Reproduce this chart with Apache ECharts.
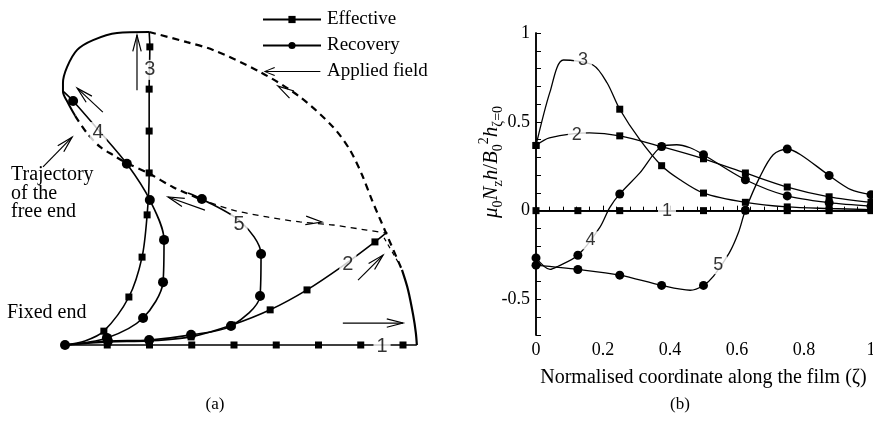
<!DOCTYPE html>
<html>
<head>
<meta charset="utf-8">
<title></title>
<script src="https://cdn.jsdelivr.net/npm/echarts@6/dist/echarts.min.js"></script>
<style>
*{ padding:0; margin:0; }
#chart{ width:873px; height:435px; background:#fff; }
</style>
</head>
<body>
<div id="chart"></div>
<script>
// ---- panel (a): film shapes, unit = film length, fixed end at (0,0) ----
// [x, y, node]  node = 1 where a marker is drawn
var film1 = [[0,0,0],[0.125,0,1],[0.25,0,1],[0.375,0,1],[0.5,0,1],[0.625,0,1],[0.75,0,1],[0.875,0,1],[1,0,1],[1.041,0,0]];
var film2 = [[0,0,0],[0.127,0.009,1],[0.249,0.012,1],[0.373,0.024,1],[0.494,0.059,1],[0.607,0.104,1],[0.716,0.163,1],[0.822,0.234,0],[0.917,0.305,1],[0.953,0.334,0]];
var film3 = [[0,0,0],[0.059,0.012,0],[0.115,0.041,1],[0.189,0.142,1],[0.228,0.260,1],[0.243,0.385,1],[0.249,0.509,1],[0.249,0.633,1],[0.249,0.757,1],[0.251,0.882,1],[0.249,0.926,0]];
var film4 = [[0,0,1],[0.124,0.021,1],[0.231,0.080,1],[0.290,0.186,1],[0.293,0.311,1],[0.251,0.429,1],[0.183,0.536,1],[0.104,0.630,0],[0.024,0.722,1],[-0.006,0.751,0]];
var film5 = [[0,0,0],[0.127,0.012,1],[0.249,0.015,1],[0.373,0.030,1],[0.491,0.056,1],[0.577,0.145,1],[0.580,0.269,1],[0.521,0.364,0],[0.405,0.432,1],[0.364,0.450,0]];

// free end trajectory
var trajSolid = [[0.249,0.926],[0.154,0.923],[0.083,0.902],[0.036,0.873],[0.006,0.822],[-0.006,0.775],[-0.006,0.749],[0.009,0.716],[0.030,0.678]];
var trajInner1 = [[0.030,0.678],[0.065,0.627],[0.104,0.586],[0.142,0.562],[0.183,0.538],[0.246,0.509],[0.320,0.467],[0.399,0.432]];
var trajInner2 = [[0.399,0.432],[0.497,0.399],[0.598,0.379],[0.695,0.364],[0.793,0.355],[0.893,0.340],[0.953,0.331]];
var trajTail = [[0.944,0.317],[0.985,0.246]];
var trajOuter = [[0.249,0.926],[0.361,0.896],[0.438,0.873],[0.577,0.808],[0.695,0.734],[0.793,0.645],[0.843,0.577],[0.879,0.503],[0.908,0.429],[0.950,0.331],[0.997,0.222]];
var trajOuterEnd = [[0.997,0.222],[1.015,0.163],[1.030,0.089],[1.038,0.036],[1.041,0]];

// applied field arrows [tailX, tailY, tipX, tipY, shaft]
var arrows = [
  [0.213,0.754, 0.213,0.917, 1],
  [0.112,0.689, 0.036,0.760, 1],
  [0.664,0.745, 0.630,0.766, 0],
  [-0.065,0.527, 0.021,0.615, 1],
  [0.414,0.399, 0.305,0.438, 1],
  [0.720,0.368, 0.760,0.364, 0],
  [0.867,0.192, 0.941,0.266, 1],
  [0.822,0.065, 1.000,0.065, 1]
];
var labelsA = [['1',0.938,-0.003],['2',0.837,0.237],['3',0.251,0.814],['4',0.098,0.630],['5',0.515,0.358]];

// ---- panel (b): normal field along the film ----
var b1 = [[0,0,1],[0.125,0,1],[0.25,0,1],[0.375,0,0],[0.5,0,1],[0.625,0,1],[0.75,0,1],[0.875,0,1],[1,0,1]];
var b2 = [[0,0.367,1],[0.04,0.41,0],[0.16,0.438,0],[0.25,0.421,1],[0.375,0.36,1],[0.5,0.292,1],[0.625,0.212,1],[0.75,0.133,1],[0.875,0.078,1],[1,0.047,1]];
var b3 = [[0,0.367,1],[0.042,0.67,0],[0.082,0.848,0],[0.17,0.82,0],[0.212,0.72,0],[0.25,0.571,1],[0.31,0.40,0],[0.375,0.253,1],[0.43,0.174,0],[0.5,0.099,1],[0.625,0.047,1],[0.75,0.021,1],[0.875,0.012,1],[1,0.006,1]];
var b4 = [[0,-0.266,1],[0.042,-0.331,0],[0.066,-0.313,0],[0.125,-0.251,1],[0.19,-0.096,0],[0.22,0.017,0],[0.25,0.094,1],[0.31,0.213,0],[0.375,0.361,1],[0.42,0.371,0],[0.46,0.354,0],[0.5,0.315,1],[0.625,0.174,1],[0.75,0.083,1],[0.875,0.045,1],[1,0.025,1]];
var b5 = [[0,-0.307,1],[0.125,-0.331,1],[0.25,-0.363,1],[0.375,-0.421,1],[0.46,-0.448,0],[0.5,-0.421,1],[0.53,-0.369,0],[0.577,-0.238,0],[0.604,-0.125,0],[0.625,0.002,1],[0.669,0.193,0],[0.708,0.315,0],[0.75,0.347,1],[0.79,0.315,0],[0.875,0.198,1],[0.94,0.118,0],[1,0.09,1]];
var labelsB = [['1',0.391,0],['2',0.122,0.427],['3',0.140,0.848],['4',0.163,-0.167],['5',0.544,-0.307]];

var serif = 'Liberation Serif';
var sans = 'Liberation Sans';

function nodes(arr, sym) {
  return arr.map(function (p) {
    return { value: [p[0], p[1]], symbol: p[2] ? sym : 'none' };
  });
}

function curve(name, arr, sym, size, ax, width) {
  return {
    name: name, type: 'line', xAxisIndex: ax, yAxisIndex: ax,
    data: nodes(arr, sym), symbol: sym, symbolSize: size,
    smooth: 0.3, clip: false, z: 3,
    lineStyle: { color: '#000', width: width },
    itemStyle: { color: '#000' },
    emphasis: { disabled: true }
  };
}

function path(arr, width, type) {
  return {
    type: 'line', xAxisIndex: 0, yAxisIndex: 0, data: arr,
    symbol: 'none', smooth: 0.3, clip: false, z: 2,
    lineStyle: { color: '#000', width: width, type: type },
    emphasis: { disabled: true }
  };
}

function arrowLines(list) {
  var out = [];
  var L = 0.048, s = 0.26;
  list.forEach(function (a) {
    var dx = a[2] - a[0], dy = a[3] - a[1];
    var len = Math.sqrt(dx * dx + dy * dy);
    var ux = dx / len, uy = dy / len;
    var bx = a[2] - ux * L, by = a[3] - uy * L;
    if (a[4]) out.push({ coords: [[a[0], a[1]], [a[2], a[3]]] });
    out.push({ coords: [[bx - uy * L * s, by + ux * L * s], [a[2], a[3]], [bx + uy * L * s, by - ux * L * s]] });
  });
  return out;
}

function labelSeries(list, ax, size, pad) {
  return {
    type: 'scatter', xAxisIndex: ax, yAxisIndex: ax, z: 10,
    symbol: 'circle', symbolSize: 1, itemStyle: { color: 'rgba(0,0,0,0)' },
    data: list.map(function (l) { return { name: l[0], value: [l[1], l[2]] }; }),
    label: {
      show: true, position: 'inside', formatter: '{b}',
      fontFamily: sans, fontSize: size, color: '#000',
      backgroundColor: '#fff', padding: pad
    },
    emphasis: { disabled: true }
  };
}

var chart = echarts.init(document.getElementById('chart'));

var option = {
  animation: false,
  backgroundColor: '#fff',
  grid: [
    { left: 31.2, top: 7, width: 405.6, height: 371.8, containLabel: false, outerBoundsMode: 'none' },
    { left: 536, top: 33, width: 335, height: 302, containLabel: false, outerBoundsMode: 'none' }
  ],
  legend: {
    orient: 'vertical', left: 257, top: 5, itemWidth: 58, itemHeight: 9, itemGap: 7,
    selectedMode: false,
    textStyle: { fontFamily: serif, fontSize: 19, color: '#000', padding: [0, 0, 0, 1] },
    data: [
      { name: 'Effective' },
      { name: 'Recovery' },
      {
        name: 'Applied field',
        icon: 'path://M0,5L11,0.4L11.6,1.4L3.4,4.4L58,4.4L58,5.6L3.4,5.6L11.6,8.6L11,9.6Z',
        itemStyle: { color: '#000', borderWidth: 0, borderColor: 'rgba(0,0,0,0)' }
      }
    ]
  },
  xAxis: [
    { gridIndex: 0, type: 'value', min: -0.1, max: 1.1, show: false },
    {
      gridIndex: 1, type: 'value', min: 0, max: 1, interval: 0.2,
      axisLine: { lineStyle: { color: '#000', width: 1.5 } },
      axisTick: { inside: true, length: 5, lineStyle: { color: '#000' } },
      minorTick: { show: true, splitNumber: 5, length: 4, lineStyle: { color: '#000' } },
      splitLine: { show: false },
      axisLabel: { margin: 6, fontFamily: serif, fontSize: 18, color: '#000' },
      name: 'Normalised coordinate along the film (\u03B6)', nameLocation: 'middle', nameGap: 33,
      nameTextStyle: { fontFamily: serif, fontSize: 20, color: '#000' }
    },
    {
      gridIndex: 1, type: 'value', min: 0, max: 1, position: 'top',
      axisLine: { lineStyle: { color: '#000', width: 1.5 } },
      axisTick: { show: false }, axisLabel: { show: false }, splitLine: { show: false }
    }
  ],
  yAxis: [
    { gridIndex: 0, type: 'value', min: -0.1, max: 1.0, show: false },
    {
      gridIndex: 1, type: 'value', min: -0.7, max: 1, interval: 0.1,
      axisLine: { lineStyle: { color: '#000', width: 1.5 } },
      axisTick: { inside: true, length: 5, lineStyle: { color: '#000' } },
      splitLine: { show: false },
      axisLabel: {
        margin: 6, fontFamily: serif, fontSize: 18, color: '#000',
        formatter: function (v) {
          return Math.abs(v * 2 - Math.round(v * 2)) < 1e-6 ? String(Math.round(v * 2) / 2) : '';
        }
      }
    },
    {
      gridIndex: 1, type: 'value', min: -0.7, max: 1, position: 'right',
      axisLine: { lineStyle: { color: '#000', width: 1.5 } },
      axisTick: { show: false }, axisLabel: { show: false }, splitLine: { show: false }
    }
  ],
  graphic: [
    { type: 'text', x: 11, y: 175, style: { text: 'Trajectory', font: '20px "Liberation Serif"', fill: '#000', verticalAlign: 'middle', textVerticalAlign: 'middle' } },
    { type: 'text', x: 11, y: 194, style: { text: 'of the', font: '20px "Liberation Serif"', fill: '#000', verticalAlign: 'middle', textVerticalAlign: 'middle' } },
    { type: 'text', x: 11, y: 212, style: { text: 'free end', font: '20px "Liberation Serif"', fill: '#000', verticalAlign: 'middle', textVerticalAlign: 'middle' } },
    { type: 'text', x: 7, y: 313, style: { text: 'Fixed end', font: '20px "Liberation Serif"', fill: '#000', verticalAlign: 'middle', textVerticalAlign: 'middle' } },
    { type: 'text', x: 215, y: 405, style: { text: '(a)', font: '17px "Liberation Serif"', fill: '#000', align: 'center', textAlign: 'center', verticalAlign: 'middle', textVerticalAlign: 'middle' } },
    { type: 'text', x: 680, y: 405, style: { text: '(b)', font: '17px "Liberation Serif"', fill: '#000', align: 'center', textAlign: 'center', verticalAlign: 'middle', textVerticalAlign: 'middle' } },
    {
      type: 'text', x: 491, y: 162, rotation: Math.PI / 2,
      style: {
        text: '{i|\u03BC}{s|0}{i|N}{s|z}{i|h}{r|/}{i|B}{s|0}{p|2}{i|h}{s|\u03B6=0}',
        align: 'center', textAlign: 'center', verticalAlign: 'middle', textVerticalAlign: 'middle',
        fill: '#000',
        rich: {
          i: { fontFamily: serif, fontStyle: 'italic', fontSize: 21, lineHeight: 28, fill: '#000', color: '#000' },
          r: { fontFamily: serif, fontSize: 21, lineHeight: 28, fill: '#000', color: '#000' },
          s: { fontFamily: serif, fontSize: 14, verticalAlign: 'bottom', fill: '#000', color: '#000' },
          p: { fontFamily: serif, fontSize: 14, verticalAlign: 'top', fill: '#000', color: '#000' }
        }
      }
    }
  ],
  series: [
    path(trajSolid, 2, 'solid'),
    path(trajInner1, 2.2, [7, 5]),
    path(trajInner2, 1.3, [6, 5]),
    path(trajTail, 1.2, [4, 4]),
    path(trajOuter, 2.2, [7, 5]),
    path(trajOuterEnd, 2.2, 'solid'),
    curve('Effective', film1, 'rect', 7, 0, 1.6),
    curve('Effective', film2, 'rect', 7, 0, 1.6),
    curve('Effective', film3, 'rect', 7, 0, 1.6),
    curve('Recovery', film4, 'circle', 10, 0, 1.6),
    curve('Recovery', film5, 'circle', 10, 0, 1.6),
    {
      name: 'Applied field', type: 'lines', coordinateSystem: 'cartesian2d',
      xAxisIndex: 0, yAxisIndex: 0, polyline: true, z: 4,
      data: arrowLines(arrows),
      lineStyle: { color: '#000', width: 1.2, opacity: 1 },
      itemStyle: { color: '#000' },
      emphasis: { disabled: true }
    },
    labelSeries(labelsA, 0, 20, [0, 3]),
    curve('Effective', b1, 'rect', 7, 1, 1.3),
    curve('Effective', b2, 'rect', 7, 1, 1.3),
    curve('Effective', b3, 'rect', 7, 1, 1.3),
    curve('Recovery', b4, 'circle', 9, 1, 1.3),
    curve('Recovery', b5, 'circle', 9, 1, 1.3),
    labelSeries(labelsB, 1, 18, [0, 4])
  ]
};

chart.setOption(option);
</script>
</body>
</html>
